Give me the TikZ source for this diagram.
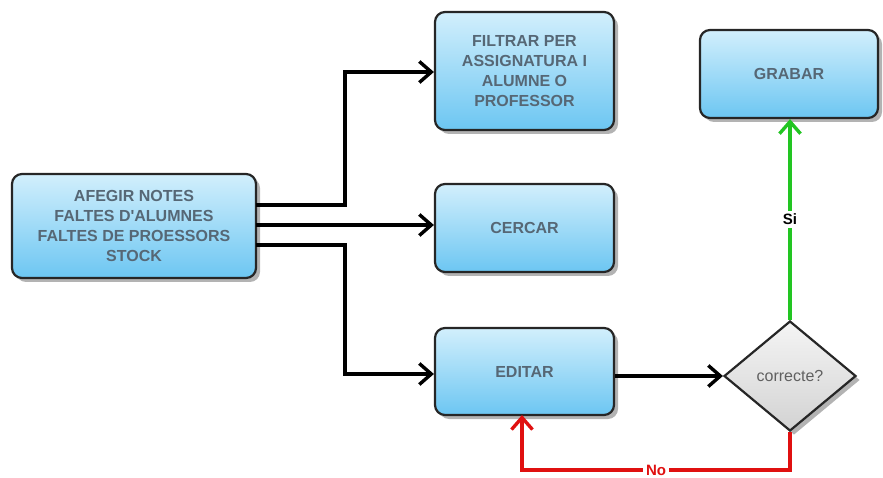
\documentclass[tikz,border=0pt]{standalone}
\usepackage{fontspec}
\setmainfont{Liberation Sans}
\usetikzlibrary{arrows.meta,shapes.geometric,shadows}
\definecolor{boxtop}{HTML}{D2EFFC}
\definecolor{boxbot}{HTML}{6CC6F2}
\definecolor{txt}{HTML}{566775}
\definecolor{grn}{HTML}{22C522}
\definecolor{rd}{HTML}{E01010}
\tikzset{
  procbox/.style={draw=black!85, line width=2.2pt, rounded corners=10pt,
    top color=boxtop, bottom color=boxbot, text=txt, font=\bfseries\fontsize{16}{20}\selectfont,
    align=center, inner sep=0pt,
    drop shadow={shadow xshift=4pt, shadow yshift=-4pt, fill=black!50, opacity=0.6}},
  decision/.style={diamond, draw=black!85, line width=2.2pt, top color=gray!8, bottom color=gray!35,
    text=gray!75!black, font=\fontsize{16}{18}\selectfont, inner sep=0pt, aspect=1.2,
    drop shadow={shadow xshift=4pt, shadow yshift=-4pt, fill=black!50, opacity=0.6}},
  conn/.style={line width=3.6pt, -{Straight Barb[length=12pt,width=21pt,line width=3.4pt]}},
  lbl/.style={fill=white, font=\bfseries\fontsize{15}{16}\selectfont, inner sep=3pt}
}
\begin{document}
\begin{tikzpicture}[x=1pt,y=-1pt]
\useasboundingbox (0,0) rectangle (883,478);
\node[procbox, minimum width=244pt, minimum height=104pt] (main) at (134,226)
  {AFEGIR NOTES\\FALTES D\textquotesingle ALUMNES\\FALTES DE PROESSORS\\STOCK};
\node[procbox, minimum width=179pt, minimum height=118pt] (filt) at (524.5,71)
  {FILTRAR PER\\ASSIGNATURA I\\ALUMNE O\\PROFESSOR};
\node[procbox, minimum width=179pt, minimum height=88pt] (cerc) at (524.5,228) {CERCAR};
\node[procbox, minimum width=179pt, minimum height=87pt] (edit) at (524.5,371.5) {EDITAR};
\node[procbox, minimum width=178pt, minimum height=88pt] (grab) at (789,74) {GRABAR};
\node[decision, minimum width=132pt, minimum height=110pt] (dec) at (790,376) {correcte?};
\coordinate (m1) at (256,205);
\coordinate (m2) at (256,225);
\coordinate (m3) at (256,245);
\draw[conn] (m1) -- (345,205) |- (filt.west |- 0,72);
\draw[conn] (m2) -- (cerc.west |- m2);
\draw[conn] (m3) -- (345,245) |- (edit.west |- 0,374);
\draw[conn] (edit.east |- 0,376) -- (dec.west);
\draw[conn, draw=grn] (dec.north) -- node[lbl, text=black, pos=0.5] {Si} (grab.south -| dec.north);
\draw[conn, draw=rd] (dec.south) -- (790,470) -- node[lbl, text=rd, pos=0.5] {No} (522,470) -- (522,415);
\end{tikzpicture}
\end{document}
